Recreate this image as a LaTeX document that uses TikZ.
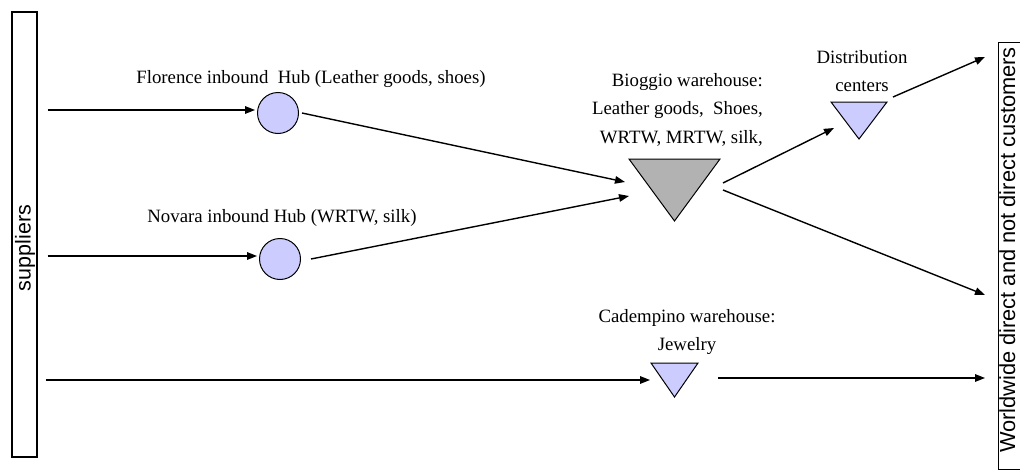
\documentclass[tikz,border=0pt]{standalone}
\usepackage{fontspec}
\setmainfont{Liberation Serif}
\setsansfont{Liberation Sans}
\usetikzlibrary{arrows.meta,calc}
\definecolor{hubfill}{RGB}{204,204,255}
\definecolor{whfill}{RGB}{178,178,178}
\begin{document}
\begin{tikzpicture}[x=1pt,y=-1pt,
  flow/.style={line width=1.4pt,-{Triangle[length=10pt,width=7.5pt]}},
  bar/.style={draw,line width=1.3pt,inner sep=0pt},
  hub/.style={circle,draw,line width=1pt,fill=hubfill,minimum size=41pt,inner sep=0pt},
  tribox/.style={inner sep=0pt,outer sep=0pt},
  tri/.style={draw,line width=1pt},
  lbl/.style={font=\fontsize{18.8}{28.5}\selectfont,inner sep=0pt},
  side/.style={font=\sffamily\fontsize{21.8}{24}\selectfont,rotate=90,inner sep=0pt},
]
\useasboundingbox (0,0) rectangle (1020,471);
\clip (0,0) rectangle (1020,471);

% side bars
\node[bar,minimum width=25pt,minimum height=445pt] (sup) at (24.5,234.5) {};
\node[side,font=\sffamily\fontsize{21.5}{24}\selectfont] (suptxt) at (25,248) {suppliers};
\node[bar,minimum width=40pt,minimum height=427pt,anchor=north west] (cust) at (998,42) {};
\node[side,text depth=0pt,anchor=base] (custtxt) at (1015,250) {Worldwide direct and not direct customers};

% inbound hubs
\node[hub] (flo) at (278,113) {};
\node[hub] (nov) at (280,259) {};

% warehouses and distribution centers
\node[tribox,minimum width=91pt,minimum height=62pt] (bio) at (674.5,190) {};
\draw[tri,fill=whfill] (bio.north west) -- (bio.north east) -- (bio.south) -- cycle;
\node[tribox,minimum width=56pt,minimum height=37pt] (dist) at (859,120.5) {};
\draw[tri,fill=hubfill] (dist.north west) -- (dist.north east) -- (dist.south) -- cycle;
\node[tribox,minimum width=47pt,minimum height=34pt] (cad) at (674.5,380) {};
\draw[tri,fill=hubfill] (cad.north west) -- (cad.north east) -- (cad.south) -- cycle;

% labels
\node[lbl] (flolbl) at (311,79) {Florence inbound\ \ Hub (Leather goods, shoes)};
\node[lbl] (novlbl) at (282,218) {Novara inbound Hub (WRTW, silk)};
\node[lbl,align=right,anchor=north east] (biolbl) at (763,73) {Bioggio warehouse:\\Leather goods,\ \ Shoes,\\WRTW, MRTW, silk,};
\node[lbl,align=center] (distlbl) at (862,71) {Distribution\\centers};
\node[lbl,align=center] (cadlbl) at (687,332) {Cadempino warehouse:\\Jewelry};

% flows
\draw[flow] ($(sup.east |- flo)+(10,-3)$) -- ($(flo.west)+(-2,-3)$);
\draw[flow] ($(sup.east |- nov)+(10,-3)$) -- ($(nov.west)+(-2,-3)$);
\draw[flow] ($(sup.east |- cad)+(8,0)$) -- ($(cad.west)+(-1,0)$);
\draw[flow] ($(flo.east)+(3,0)$) -- ($(bio.west)+(-4,-8)$);
\draw[flow] ($(nov.east)+(10,0)$) -- ($(bio.west)+(0,6)$);
\draw[flow] ($(bio.east)+(3,-7)$) -- ($(dist.west)+(3,7.5)$);
\draw[flow] ($(bio.east)+(3,0)$) -- ($(cust.north west)+(-13,253)$);
\draw[flow] ($(dist.north east)+(6,-5)$) -- ($(cust.north west)+(-13,15)$);
\draw[flow] ($(cad.east)+(20,-2)$) -- ($(cust.west |- cad)+(-13,-2)$);
\end{tikzpicture}
\end{document}
